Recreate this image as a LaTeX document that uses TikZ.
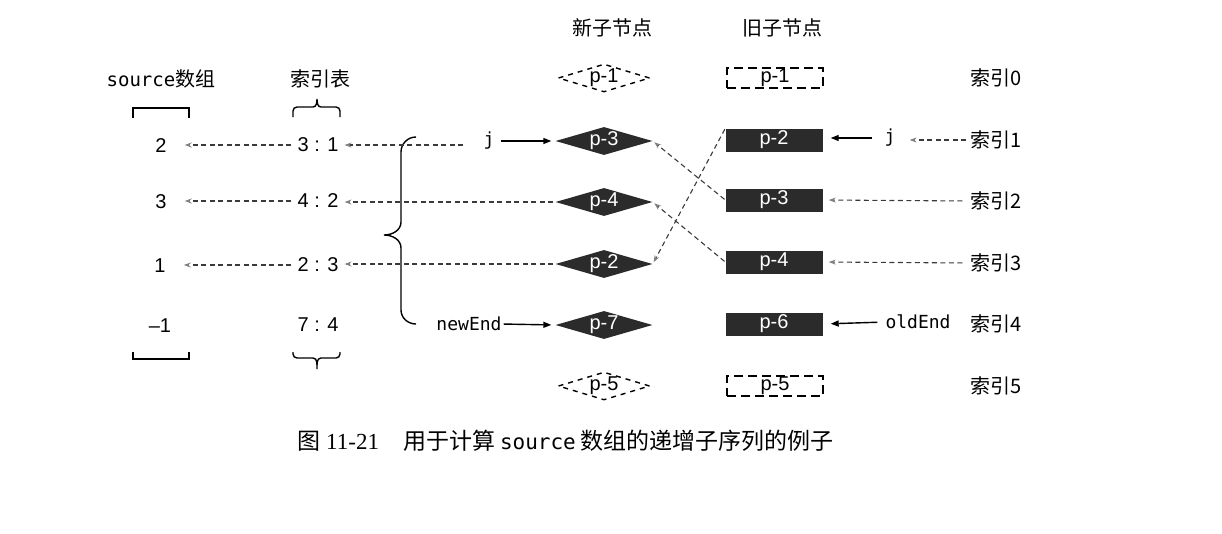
\documentclass[tikz,border=0pt]{standalone}
\usepackage{fontspec}
\setmainfont{Liberation Sans}
\newfontfamily\cjk{Noto Sans CJK SC}
\newfontfamily\mono{DejaVu Sans Mono}
\newfontfamily\serifnum{Liberation Serif}
\usetikzlibrary{shapes.geometric,arrows.meta}
\definecolor{darkfill}{HTML}{2B2B2B}
\definecolor{dashgray}{HTML}{3A3A3A}
\tikzset{
  hdr/.style={font=\cjk\fontsize{20}{22}\selectfont, inner sep=0pt},
  val/.style={font=\fontsize{20}{22}\selectfont, inner sep=0pt},
  code/.style={font=\mono\fontsize{18}{20}\selectfont, inner sep=0pt},
  newnode/.style={diamond, aspect=3.5, minimum width=97pt, minimum height=28pt, inner sep=0pt,
    fill=darkfill, text=white, font=\fontsize{20}{22}\selectfont},
  newghost/.style={diamond, aspect=3.5, minimum width=86pt, minimum height=28pt, inner sep=0pt,
    draw=black, line width=1.4pt, dash pattern=on 5pt off 5pt, fill=white, font=\fontsize{20}{22}\selectfont},
  oldnode/.style={rectangle, minimum width=97pt, minimum height=23pt, inner sep=0pt,
    fill=darkfill, text=white, font=\fontsize{20}{22}\selectfont},
  oldghost/.style={rectangle, minimum width=96pt, minimum height=20pt, inner sep=0pt,
    draw=black, line width=1.5pt, dash pattern=on 9pt off 5pt, fill=white, font=\fontsize{20}{22}\selectfont},
  solidarr/.style={line width=1.4pt, -{Triangle[length=8pt,width=6pt]}},
  dasharr/.style={draw=dashgray, line width=1.1pt, dash pattern=on 5pt off 3.5pt,
    -{Stealth[length=7pt,width=5pt,color=gray,fill=gray]}},
  bracket/.style={line width=1.4pt},
}
\begin{document}
\begin{tikzpicture}[x=1pt,y=-1pt]
\useasboundingbox (0,0) rectangle (1222,533);

% headers
\node[hdr] (hsrc) at (161,79) {{\mono\fontsize{19}{22}\selectfont source}数组};
\node[hdr] (hidx) at (320,79) {索引表};
\node[hdr] (hnew) at (612,28) {新子节点};
\node[hdr] (hold) at (782,28) {旧子节点};

% brackets for source
\draw[bracket] (133,118) -- (133,108) -- (189,108) -- (189,118);
\draw[bracket] (133,352) -- (133,359) -- (189,359) -- (189,352);
% braces for index table
\draw[bracket] (293,117) -- (293,111) to[out=90,in=180] (297,107) -- (313,107)
  to[out=0,in=-90] (317,99) to[out=-90,in=180] (321,107) -- (336,107)
  to[out=0,in=90] (340,111) -- (340,117);
\draw[bracket] (293,352) -- (293,354) to[out=-90,in=180] (297,358) -- (313,358)
  to[out=0,in=90] (317,369) to[out=90,in=180] (321,358) -- (336,358)
  to[out=0,in=-90] (340,354) -- (340,352);

% source values
\node[val] (s1) at (161,146) {2};
\node[val] (s2) at (161,202) {3};
\node[val] (s3) at (160,266) {1};
\node[val] (s4) at (160,326) {--1};

% index table values
\node[val] (i1) at (318,145) {3 : 1};
\node[val] (i2) at (318,201) {4 : 2};
\node[val] (i3) at (318,265) {2 : 3};
\node[val] (i4) at (318,325) {7 : 4};

% big brace
\draw[bracket] (416,137) to[out=180,in=90] (401,152) -- (401,222)
  to[out=-90,in=0] (384,235) to[out=0,in=90] (401,248) -- (401,310)
  to[out=-90,in=180] (416,324);

% new children
\node[newghost] (n1) at (604,78) {p-1};
\node[newnode] (n3) at (604,141) {p-3};
\node[newnode] (n4) at (604,202) {p-4};
\node[newnode] (n2) at (604,264) {p-2};
\node[newnode] (n7) at (604,325) {p-7};
\node[newghost] (n5) at (604,386) {p-5};

% old children
\node[oldghost] (o1) at (775,78) {p-1};
\node[oldnode] (o2) at (774,140) {p-2};
\node[oldnode] (o3) at (774,200) {p-3};
\node[oldnode] (o4) at (774,262) {p-4};
\node[oldnode] (o6) at (774,324) {p-6};
\node[oldghost] (o5) at (775,386) {p-5};

% pointers
\node[code] (jn) at (489,141) {j};
\node[code] (ne) at (469,324) {newEnd};
\node[code] (jo) at (890,138) {j};
\node[code] (oe) at (918,322) {oldEnd};

% index labels
\node[hdr] (k0) at (996,78) {索引0};
\node[hdr] (k1) at (996,140) {索引1};
\node[hdr] (k2) at (996,201) {索引2};
\node[hdr] (k3) at (996,263) {索引3};
\node[hdr] (k4) at (996,324) {索引4};
\node[hdr] (k5) at (996,386) {索引5};

% arrows index table -> source
\draw[dasharr, shorten <=6pt, shorten >=18pt] (i1.west) -- (s1.east |- i1.west);
\draw[dasharr, shorten <=6pt, shorten >=18pt] (i2.west) -- (s2.east |- i2.west);
\draw[dasharr, shorten <=6pt, shorten >=18pt] (i3.west) -- (s3.east |- i3.west);

% arrows new side -> index table
\draw[dasharr, shorten <=20pt, shorten >=6pt] (jn.west |- i1.east) -- (i1.east);
\draw[dasharr, shorten <=2pt, shorten >=6pt] (n4.west) -- (i2.east |- n4.west);
\draw[dasharr, shorten <=2pt, shorten >=6pt] (n2.west) -- (i3.east |- n2.west);

% pointer arrows new
\draw[solidarr, shorten <=6pt, shorten >=4pt] (jn.east) -- (n3.west);
\draw[solidarr, shorten <=2pt, shorten >=4pt] (ne.east) -- (n7.west);

% crossing arrows old -> new
\draw[dasharr, shorten <=1pt, shorten >=2pt] (o3.west) -- (n3.east);
\draw[dasharr, shorten <=1pt, shorten >=2pt] (o4.west) -- (n4.east);
\draw[dasharr, shorten <=1pt, shorten >=2pt] (o2.north west) -- (n2.east);

% pointer arrows old
\draw[solidarr, shorten <=12pt, shorten >=8pt] (jo.west) -- (o2.east |- jo.west);
\draw[dasharr, shorten <=4pt, shorten >=14pt] (k1.west) -- (jo.east |- k1.west);
\draw[dasharr, shorten <=8pt, shorten >=6pt] (k2.west) -- (o3.east);
\draw[dasharr, shorten <=8pt, shorten >=6pt] (k3.west) -- (o4.east);
\draw[solidarr, shorten <=8pt, shorten >=8pt] (oe.west) -- (o6.east);

% caption
\node[anchor=west, inner sep=0pt, font=\cjk\fontsize{23}{25}\selectfont] (cap) at (297,441)
  {图\hspace{6pt}{\serifnum 11-21}\hspace{24pt}用于计算\hspace{5pt}{\mono\fontsize{21}{24}\selectfont source}\hspace{5pt}数组的递增子序列的例子};
\end{tikzpicture}
\end{document}
